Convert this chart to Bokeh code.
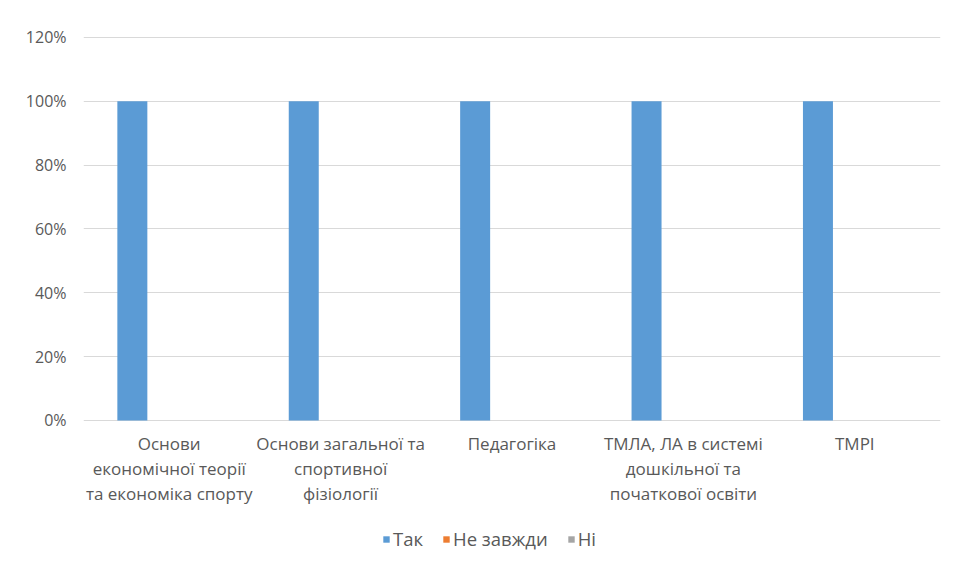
from bokeh.plotting import figure
from bokeh.models import (ColumnDataSource, FactorRange, NumeralTickFormatter, Legend,
                          LegendItem, FixedTicker)
from bokeh.core.properties import value
from bokeh.transform import dodge
from bokeh.embed import file_html
from bokeh.resources import INLINE

categories = [
    "Основи\nекономічної теорії\nта економіка спорту",
    "Основи загальної та\nспортивної\nфізіології",
    "Педагогіка",
    "ТМЛА, ЛА в системі\nдошкільної та\nпочаткової освіти",
    "ТМРІ",
]
series_names = ["Так", "Не завжди", "Ні"]
tak = [1.0, 1.0, 1.0, 1.0, 1.0]
ne_zavzhdy = [0.0, 0.0, 0.0, 0.0, 0.0]
ni = [0.0, 0.0, 0.0, 0.0, 0.0]
y_ticks = [0, 0.2, 0.4, 0.6, 0.8, 1.0, 1.2]

colors = ["#5b9bd5", "#ed7d31", "#a5a5a5"]
FONT = "Open Sans"
TXT = "#595959"

source = ColumnDataSource(dict(cat=categories, tak=tak, ne=ne_zavzhdy, ni=ni))

# lower part of the y range hosts the category labels and the legend
p = figure(x_range=FactorRange(*categories), y_range=(-0.4167, 1.2031),
           width=944, height=553, output_backend="svg", toolbar_location=None,
           min_border_left=83, min_border_right=4, min_border_top=36, min_border_bottom=0)

r1 = p.vbar(x=dodge("cat", -0.215, range=p.x_range), top="tak", width=0.175, source=source,
            color=colors[0], line_color=None)
r2 = p.vbar(x=dodge("cat", 0.0, range=p.x_range), top="ne", width=0.175, source=source,
            color=colors[1], line_color=None)
r3 = p.vbar(x=dodge("cat", 0.215, range=p.x_range), top="ni", width=0.175, source=source,
            color=colors[2], line_color=None)

p.x_range.range_padding = 0
p.yaxis.ticker = FixedTicker(ticks=y_ticks)
p.yaxis.formatter = NumeralTickFormatter(format="0%")
p.yaxis.axis_line_color = None
p.yaxis.major_tick_line_color = None
p.yaxis.major_tick_out = 0
p.yaxis.minor_tick_line_color = None
p.yaxis.major_label_text_font = FONT
p.yaxis.major_label_text_font_size = "16px"
p.yaxis.major_label_text_color = TXT
p.yaxis.major_label_standoff = 17

p.xaxis.visible = False

# category labels, one text per line
LINE_STEP = 0.078
lx, ly, lt = [], [], []
for cat in categories:
    for j, line in enumerate(cat.split("\n")):
        lx.append(cat)
        ly.append(-0.072 - j * LINE_STEP)
        lt.append(line)
p.text(x=lx, y=ly, text=lt, text_align="center", text_baseline="middle",
       text_font=value(FONT), text_font_size="17px", text_color=TXT)

p.xgrid.grid_line_color = None
p.ygrid.grid_line_color = "#d9d9d9"
p.ygrid.ticker = FixedTicker(ticks=y_ticks)
p.outline_line_color = None

legend = Legend(items=[LegendItem(label=series_names[0], renderers=[r1]),
                       LegendItem(label=series_names[1], renderers=[r2]),
                       LegendItem(label=series_names[2], renderers=[r3])],
                orientation="horizontal", location=(299, 2),
                label_text_font=FONT, label_text_font_size="18.5px", label_text_color=TXT,
                glyph_width=8, glyph_height=8, label_standoff=3, spacing=19,
                border_line_color=None, background_fill_alpha=0, margin=0, padding=4)
p.add_layout(legend, "center")

open("out.html", "w").write(file_html(p, INLINE))
